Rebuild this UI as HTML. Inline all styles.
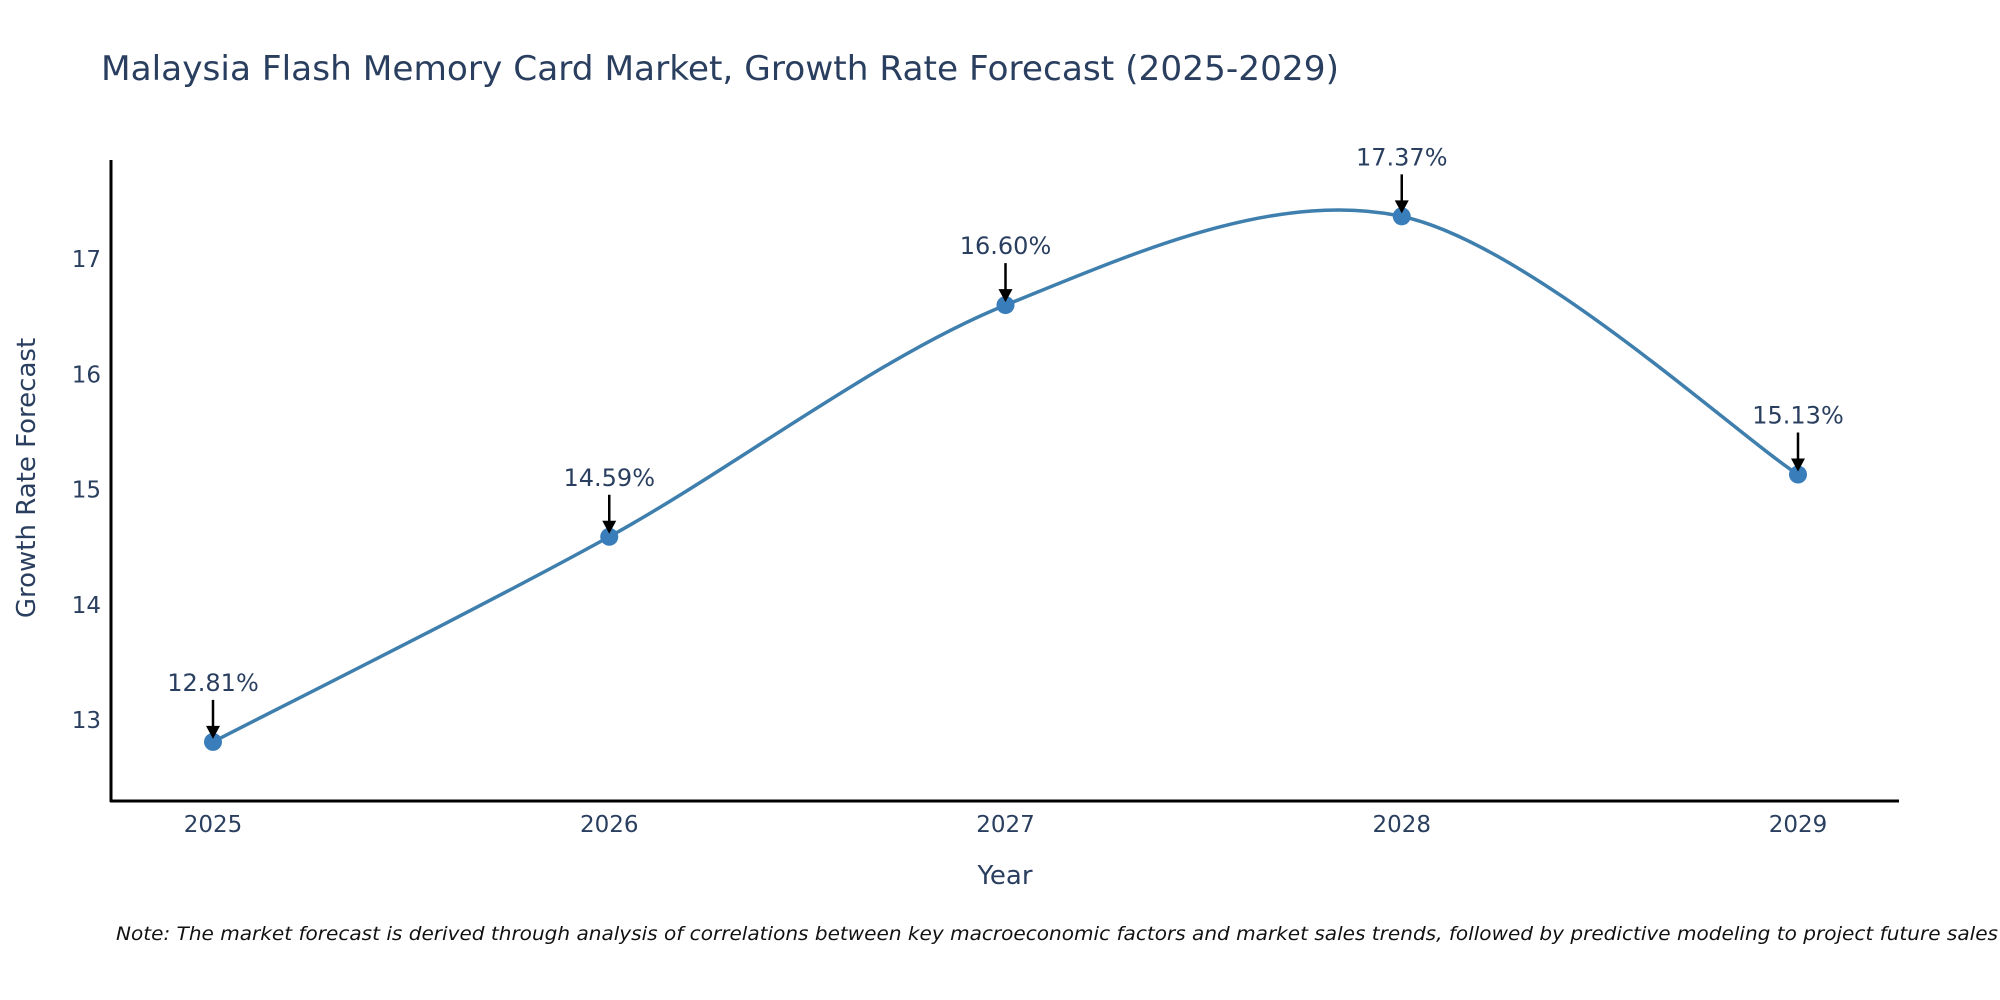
<!DOCTYPE html>
<html><head><meta charset="utf-8"><style>
html,body{margin:0;padding:0;background:#fff;}
svg{display:block;font-family:"DejaVu Sans","Liberation Sans",sans-serif;}
</style></head><body>
<svg id="chart" width="2000" height="1000" viewBox="0 0 2000 1000">
<rect width="2000" height="1000" fill="#fff"/>
<text x="101" y="80" font-size="34" fill="#2a3f5f" textLength="1238" lengthAdjust="spacingAndGlyphs">Malaysia Flash Memory Card Market, Growth Rate Forecast (2025-2029)</text>
<g id="yticks"></g>
<g id="xticks"></g>
<path id="line" fill="none" stroke="#3f7fae" stroke-width="3.5"/>
<g id="marks"></g>
<g id="annos"></g>
<line x1="111" y1="160" x2="111" y2="802" stroke="#000" stroke-width="3"/>
<line x1="110" y1="801" x2="1899" y2="801" stroke="#000" stroke-width="3"/>
<text x="1005" y="884" font-size="26" fill="#2a3f5f" text-anchor="middle">Year</text>
<text transform="translate(35,478) rotate(-90)" font-size="26" fill="#2a3f5f" text-anchor="middle">Growth Rate Forecast</text>
<text x="116" y="940" font-size="19" font-style="italic" fill="#111" textLength="1882" lengthAdjust="spacingAndGlyphs">Note: The market forecast is derived through analysis of correlations between key macroeconomic factors and market sales trends, followed by predictive modeling to project future sales</text>
</svg>
<script>
const years = [2025, 2026, 2027, 2028, 2029];
const growth = [12.81, 14.59, 16.60, 17.37, 15.13];
const labels = ["12.81%", "14.59%", "16.60%", "17.37%", "15.13%"];
const yTickValues = [13, 14, 15, 16, 17];

const NS = "http://www.w3.org/2000/svg";
function xs(v){ return 213 + (v - 2025) * 396.25; }
function ys(v){ return 720 - (v - 13) * 115.25; }
function mk(tag, attrs, parent){ const e=document.createElementNS(NS,tag); for(const k in attrs) e.setAttribute(k,attrs[k]); parent.appendChild(e); return e; }

const yt = document.getElementById('yticks');
yTickValues.forEach(v=>{
  const t = mk('text',{x:101,y:ys(v)+8,'font-size':23,fill:'#2a3f5f','text-anchor':'end'},yt);
  
  
  t.textContent = v;
});
const xt = document.getElementById('xticks');
years.forEach(v=>{
  const t = mk('text',{x:xs(v),y:832,'font-size':23,fill:'#2a3f5f','text-anchor':'middle'},xt);
  
  
  t.textContent = v;
});

const pts = years.map((y,i)=>[xs(y), ys(growth[i])]);
let d = `M${pts[0][0]},${pts[0][1]}`;
const k = 0.16;
for(let i=0;i<pts.length-1;i++){
  const p0 = pts[Math.max(i-1,0)], p1=pts[i], p2=pts[i+1], p3=pts[Math.min(i+2,pts.length-1)];
  const c1=[p1[0]+(p2[0]-p0[0])*k, p1[1]+(p2[1]-p0[1])*k];
  const c2=[p2[0]-(p3[0]-p1[0])*k, p2[1]-(p3[1]-p1[1])*k];
  d += ` C${c1[0]},${c1[1]} ${c2[0]},${c2[1]} ${p2[0]},${p2[1]}`;
}
document.getElementById('line').setAttribute('d', d);

const mg = document.getElementById('marks');
const ag = document.getElementById('annos');
years.forEach((y,i)=>{
  const cx = xs(y), cy = ys(growth[i]);
  const c = mk('circle',{cx:cx,cy:cy,r:9,fill:'#3a7dbb'},mg);
  
  
  const ln = mk('line',{x1:cx,y1:cy-42,x2:cx,y2:cy-14,stroke:'#000','stroke-width':2.5},ag);
  
  
  const hd = mk('polygon',{points:`${cx-7},${cy-16} ${cx+7},${cy-16} ${cx},${cy-3}`,fill:'#000'},ag);
  
  
  const t = mk('text',{x:cx,y:cy-51,'font-size':24,fill:'#2a3f5f','text-anchor':'middle'},ag);
  
  
  t.textContent = labels[i];
});
</script>
</body></html>
